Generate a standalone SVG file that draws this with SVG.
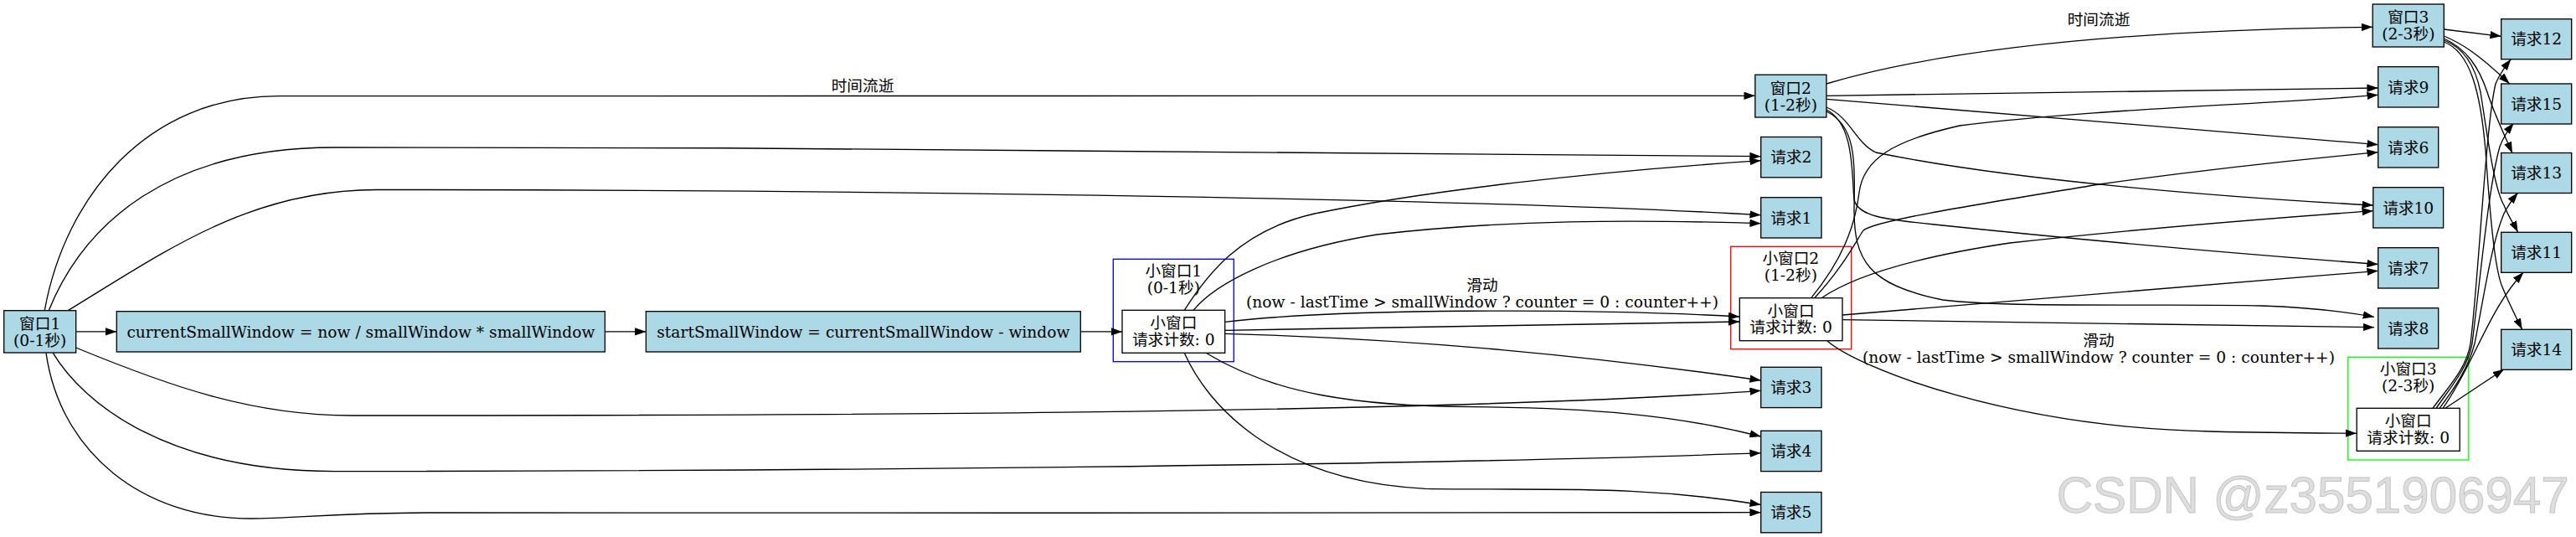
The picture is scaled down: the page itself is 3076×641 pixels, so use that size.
<svg xmlns="http://www.w3.org/2000/svg" width="3076" height="641" viewBox="0 0 3076 641">
<style>
text{font-family:"DejaVu Serif","Noto Sans CJK SC",serif;font-size:18.67px;fill:#000;text-anchor:middle}
.n{fill:#add8e6;stroke:#000;stroke-width:1.33}
.w{fill:#fff;stroke:#000;stroke-width:1.33}
.e path{fill:none;stroke:#000;stroke-width:1.33;marker-end:url(#ah)}
.c{fill:none;stroke-width:1.33}
.wm{font-family:"Liberation Sans",Arial,sans-serif;font-size:62px;fill:#dedede;stroke:#c4c4c4;stroke-width:1;text-anchor:start}
</style>
<defs>
<marker id="ah" viewBox="0 0 13.3 9.4" refX="13.3" refY="4.7" markerUnits="userSpaceOnUse" markerWidth="13.3" markerHeight="9.4" orient="auto">
<path d="M0,0 L13.3,4.7 L0,9.4 z" fill="#000"/>
</marker>
</defs>
<rect width="3076" height="641" fill="#fff"/>

<g id="cluster1">
<rect class="c" x="1329.3" y="309.3" width="144" height="122.4" stroke="#0000ff"/>
<text x="1401.3" y="330.3">小窗口1</text>
<text x="1401.3" y="350.3">(0-1秒)</text>
</g>
<g id="cluster2">
<rect class="c" x="2066.7" y="294.3" width="144" height="122.4" stroke="#ff0000"/>
<text x="2138.3" y="315.3">小窗口2</text>
<text x="2138.3" y="335.3">(1-2秒)</text>
</g>
<g id="cluster3">
<rect class="c" x="2803.8" y="426.3" width="144" height="122.7" stroke="#00ff00"/>
<text x="2875.7" y="447">小窗口3</text>
<text x="2875.7" y="467">(2-3秒)</text>
</g>

<g class="e" id="edges">
<path d="M53.3,370.4 C78,235 175,114.6 333,114.6 C900,114.6 1600,114.4 2095.8,114.3"/>
<path d="M58.3,370.4 C100,268 200,176 400,176 C1000,176 1700,180 2102.7,186.7"/>
<path d="M81.7,370.4 C200,298 300,226.5 450,226.5 C1000,226.5 1750,236 2102.7,256.7"/>
<path d="M90.7,395.9 L139.3,395.9"/>
<path d="M90.7,415 C200,460 300,496 420,496 C900,496 1700,495 2102.7,466.3"/>
<path d="M63.3,421.3 C100,482 200,562.6 400,562.6 C900,562.6 1700,556 2102.7,540.7"/>
<path d="M55,421.3 C72,540 170,619 300,619 C350,619 400,612 520,612 C1000,612 1700,613 2102.7,611.7"/>
<path d="M722.4,395.9 L771.4,395.9"/>
<path d="M1290.3,395.9 L1340,395.9"/>
<path d="M1414.3,370.3 C1440,330 1480,275 1570,255 C1700,228 1900,205 2102.7,191.7"/>
<path d="M1425,370.3 C1450,340 1520,300 1644,280 C1800,262 1950,262 2102.7,266.7"/>
<path d="M1462.7,384.3 C1600,368 1900,368 2077.3,378"/>
<path d="M1462.7,394.3 C1700,390 1900,386 2077.3,384"/>
<path d="M1462.7,398.3 C1700,405 1900,425 2102.7,454"/>
<path d="M1440,421.3 C1520,470 1620,485 1759,485.7 C1900,487 2000,495 2102.7,521"/>
<path d="M1414.3,421.3 C1440,480 1520,575 1702,583.3 C1850,586 1950,578 2102.7,602.5"/>
<path d="M2180.9,100 C2350,50 2600,35 2833.2,32.3"/>
<path d="M2180.9,114.3 L2839.7,105"/>
<path d="M2180.9,118.3 L2839.7,172.7"/>
<path d="M2180.9,128 C2210,140 2215,170 2240,182 C2400,215 2650,235 2833.8,245"/>
<path d="M2181,131 C2214,148 2211,205 2214,238 C2218,258 2250,262 2310,268 C2500,288 2700,305 2839.7,315.5"/>
<path d="M2181,133 C2216,150 2215,190 2214,250 C2214,310 2230,340 2320,358 C2400,368 2600,362 2700,365 C2760,367 2800,372 2835,378.3"/>
<path d="M2162.7,355.7 C2200,310 2215,270 2220,230 C2225,190 2260,168 2340,150 C2500,130 2700,125 2839.7,113.3"/>
<path d="M2166.7,355.7 C2200,320 2215,290 2225,275 C2240,262 2400,238 2506.7,220 C2650,200 2750,190 2839.7,181.7"/>
<path d="M2175,355.7 C2220,325 2300,305 2400,290 C2600,268 2750,258 2833.8,251.7"/>
<path d="M2200,376 L2839.7,323.3"/>
<path d="M2200,381.7 L2835,390.7"/>
<path d="M2181.7,406.7 C2220,440 2400,510 2640,515 C2720,517 2780,517 2814.2,517.3"/>
<path d="M2918.3,35 L2986.7,43.3"/>
<path d="M2918.3,43 C2940,52 2960,65 2996.7,100"/>
<path d="M2918.3,46 C2945,58 2960,80 2970,110 C2978,135 2990,160 3000,182.7"/>
<path d="M2918.3,48 C2945,58 2957,85 2962,110 C2970,160 2978,225 2990,245 C2995,258 3002,268 3006.7,277.3"/>
<path d="M2918.3,50 C2950,62 2962,110 2968,180 C2975,280 2980,320 2987,340 C2995,360 3005,380 3011.7,393.3"/>
<path d="M2905,487.3 C2925,460 2945,440 2950,410 C2960,330 2968,150 2980,100 C2985,88 2991,80 2998.3,70.7"/>
<path d="M2909,487.3 C2928,460 2946,440 2952,410 C2962,330 2972,220 2985,175 C2990,162 2995,155 3001.7,146.7"/>
<path d="M2913,487.3 C2932,462 2947,440 2955,410 C2965,360 2975,290 2990,255 C2995,245 3000,238 3006.7,230"/>
<path d="M2917,487.3 C2935,462 2950,430 2960,410 C2975,380 2990,350 3013.3,325"/>
<path d="M2920,487.3 L2990,440.7"/>
</g>

<g id="edge-labels">
<text x="1030" y="109">时间流逝</text>
<text x="2506" y="30">时间流逝</text>
<text x="1770" y="347">滑动</text>
<text x="1770" y="367">(now - lastTime &gt; smallWindow ? counter = 0 : counter++)</text>
<text x="2506" y="413">滑动</text>
<text x="2506" y="433">(now - lastTime &gt; smallWindow ? counter = 0 : counter++)</text>
</g>

<g id="win1"><rect class="n" x="4.7" y="370.7" width="86" height="50.3"/><text x="47.7" y="392.6">窗口1</text><text x="47.7" y="412.6">(0-1秒)</text></g>
<g id="current"><rect class="n" x="139.3" y="371.7" width="583.1" height="48.3"/><text x="430.9" y="402.5">currentSmallWindow = now / smallWindow * smallWindow</text></g>
<g id="start"><rect class="n" x="771.4" y="371.7" width="518.9" height="48.3"/><text x="1030.9" y="402.5">startSmallWindow = currentSmallWindow - window</text></g>
<g id="small1"><rect class="w" x="1340" y="370.3" width="122.7" height="51"/><text x="1401.3" y="392">小窗口</text><text x="1401.3" y="411.5">请求计数: 0</text></g>
<g id="win2"><rect class="n" x="2095.8" y="89.3" width="85.1" height="50.7"/><text x="2138.3" y="111.5">窗口2</text><text x="2138.3" y="131.5">(1-2秒)</text></g>
<g id="small2"><rect class="w" x="2077.3" y="355.7" width="122.7" height="51"/><text x="2138.6" y="377.5">小窗口</text><text x="2138.6" y="397">请求计数: 0</text></g>
<g id="win3"><rect class="n" x="2833.2" y="5" width="85.1" height="51"/><text x="2875.8" y="27.3">窗口3</text><text x="2875.8" y="47.3">(2-3秒)</text></g>
<g id="small3"><rect class="w" x="2814.2" y="487.3" width="123" height="51"/><text x="2875.7" y="509">小窗口</text><text x="2875.7" y="528.5">请求计数: 0</text></g>

<g id="req2"><rect class="n" x="2102.7" y="163.5" width="72.3" height="48.3"/><text x="2138.8" y="194.3">请求2</text></g>
<g id="req1"><rect class="n" x="2102.7" y="235.7" width="72.3" height="48.3"/><text x="2138.8" y="266.5">请求1</text></g>
<g id="req3"><rect class="n" x="2102.7" y="438.3" width="72.3" height="48.3"/><text x="2138.8" y="469.1">请求3</text></g>
<g id="req4"><rect class="n" x="2102.7" y="514.3" width="72.3" height="48.3"/><text x="2138.8" y="545.1">请求4</text></g>
<g id="req5"><rect class="n" x="2102.7" y="587.5" width="72.3" height="48.3"/><text x="2138.8" y="618.3">请求5</text></g>
<g id="req9"><rect class="n" x="2839.7" y="79.7" width="72" height="48.3"/><text x="2875.7" y="110.5">请求9</text></g>
<g id="req6"><rect class="n" x="2839.7" y="151.7" width="72" height="48.3"/><text x="2875.7" y="182.5">请求6</text></g>
<g id="req10"><rect class="n" x="2833.8" y="223.7" width="83.8" height="48.3"/><text x="2875.7" y="254.5">请求10</text></g>
<g id="req7"><rect class="n" x="2839.7" y="295.7" width="72" height="48.3"/><text x="2875.7" y="326.5">请求7</text></g>
<g id="req8"><rect class="n" x="2839.7" y="367.7" width="72" height="48.3"/><text x="2875.7" y="398.5">请求8</text></g>
<g id="req12"><rect class="n" x="2986.7" y="22.7" width="84" height="48"/><text x="3028.7" y="53.3">请求12</text></g>
<g id="req15"><rect class="n" x="2986.7" y="100" width="84" height="48"/><text x="3028.7" y="130.6">请求15</text></g>
<g id="req13"><rect class="n" x="2986.7" y="182.5" width="84" height="48"/><text x="3028.7" y="213.1">请求13</text></g>
<g id="req11"><rect class="n" x="2986.7" y="277.3" width="84" height="48"/><text x="3028.7" y="307.9">请求11</text></g>
<g id="req14"><rect class="n" x="2986.7" y="393.3" width="84" height="48"/><text x="3028.7" y="423.9">请求14</text></g>

<text class="wm" x="2455.7" y="611.7" textLength="612" lengthAdjust="spacingAndGlyphs">CSDN @z3551906947</text>
</svg>
